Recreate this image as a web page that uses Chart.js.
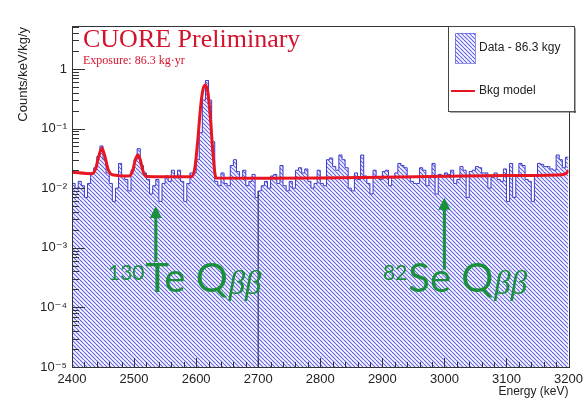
<!DOCTYPE html>
<html><head><meta charset="utf-8">
<script src="https://cdn.jsdelivr.net/npm/chart.js@4.4.0/dist/chart.umd.min.js"></script>
<style>html,body{margin:0;padding:0;background:#fff;}#wrap{width:588px;height:399px;}canvas{display:block;}</style>
</head><body><div id="wrap"><canvas id="c" width="588" height="399"></canvas></div>
<script>
// ---- data ----
const binStart = 2400;
const binWidth = 5;
const counts = [
0.012,0.010,0.013,0.011,0.007,0.012,0.018,0.022,0.034,0.051,
0.030,0.018,0.012,0.006,0.010,0.026,0.016,0.014,0.009,0.020,
0.030,0.046,0.024,0.018,0.014,0.008,0.011,0.014,0.006,0.012,
0.016,0.013,0.020,0.015,0.020,0.013,0.006,0.012,0.018,0.018,
0.030,0.085,0.30,0.64,0.30,0.06,
0.013,0.011,0.018,0.012,0.011,0.024,0.030,0.019,0.015,0.020,
0.011,0.013,0.017,0.007,0.009,0.011,0.013,0.010,0.016,0.017,
0.012,0.024,0.011,0.009,0.013,0.010,0.020,0.022,0.018,0.021,
0.013,0.010,0.012,0.020,0.012,0.011,
0.030,0.032,0.023,0.020,0.036,0.030,0.022,0.010,0.009,0.018,
0.014,0.036,0.016,0.012,0.008,0.020,0.015,0.014,0.019,0.020,
0.011,0.015,0.018,0.026,0.024,0.022,0.015,0.013,0.012,0.012,
0.022,0.020,0.011,0.016,0.026,0.008,0.017,0.016,
0.018,0.017,0.020,0.012,0.014,0.023,0.020,0.007,0.019,0.020,
0.023,0.022,0.018,0.018,0.010,0.015,0.018,0.014,0.013,0.021,
0.006,0.026,0.007,0.016,0.026,0.024,0.014,0.013,0.006,0.016,
0.026,0.025,0.023,0.023,0.021,0.020,0.036,0.030,0.022,0.033
];
const modelEnergy = [2400,2432,2438,2443,2448,2453,2458,2465,2492,2498,2502,2506,2510,2514,2520,2592,2598,2603,2607,2611,2615,2619,2623,2627,2632,2700,2800,2900,3000,3100,3190,3197,3200];
const modelValue  = [0.0185,0.0175,0.021,0.034,0.047,0.034,0.021,0.0168,0.0160,0.020,0.030,0.036,0.030,0.020,0.0157,0.0155,0.022,0.07,0.22,0.45,0.54,0.40,0.15,0.04,0.0148,0.0147,0.0148,0.0152,0.0158,0.0163,0.0168,0.018,0.020];
const markerLine = {energy: 2700, low: 1e-5, high: 0.009};
const arrowTe = {energy: 2535, tip: 0.0050, tail: 0.00058};
const arrowSe = {energy: 3000, tip: 0.0069, tail: 0.00043};
const yTickValues = [1e-5,1e-4,1e-3,1e-2,1e-1,1];
const xMin = 2400, xMax = 3200, yMin = 1e-5, yMax = 5.25;

// ---- build ----
const histPoints = counts.map((v,i)=>({x: binStart + i*binWidth, y: v}));
histPoints.push({x: binStart + counts.length*binWidth, y: counts[counts.length-1]});
const modelPoints = modelEnergy.map((e,i)=>({x:e, y:modelValue[i]}));

const canvas = document.getElementById('c');
const ctx0 = canvas.getContext('2d');
function makeHatch(ctx){
  const c=document.createElement('canvas'); c.width=8; c.height=8;
  const g=c.getContext('2d');
  g.fillStyle='#f7f7ff'; g.fillRect(0,0,8,8);
  g.strokeStyle='rgb(96,96,230)'; g.lineWidth=1.05;
  for(let k=-8;k<=8;k+=4){ g.beginPath(); g.moveTo(k,0); g.lineTo(k+8,8); g.stroke(); }
  return ctx.createPattern(c,'repeat');
}
const hatch = makeHatch(ctx0);

const SUP = {'-':'\u207B','0':'\u2070','1':'\u00B9','2':'\u00B2','3':'\u00B3','4':'\u2074','5':'\u2075','6':'\u2076','7':'\u2077','8':'\u2078','9':'\u2079'};
function expLabel(v){
  const e = Math.round(Math.log10(v));
  if(e===0) return '1';
  return '10' + String(e).split('').map(c=>SUP[c]).join('');
}

const deco = {
  id:'deco',
  afterDraw(chart){
    const ctx = chart.ctx, a = chart.chartArea, xs = chart.scales.x, ys = chart.scales.y;
    ctx.save();
    // ticks
    ctx.strokeStyle='#333'; ctx.lineWidth=1;
    ctx.beginPath();
    for(let e=xMin;e<=xMax;e+=20){
      const px=Math.round(xs.getPixelForValue(e))+0.5;
      const len = (e%100===0)?9:5;
      ctx.moveTo(px,a.bottom); ctx.lineTo(px,a.bottom-len);
    }
    for(let d=-5; d<=0; d++){
      for(let m=1;m<=9;m++){
        const v=m*Math.pow(10,d);
        if(v<yMin||v>yMax) continue;
        const py=Math.round(ys.getPixelForValue(v))+0.5;
        const len=(m===1)?13:7;
        ctx.moveTo(a.left,py); ctx.lineTo(a.left+len,py);
      }
    }
    ctx.stroke();
    // frame
    ctx.strokeStyle='#333';
    ctx.strokeRect(Math.round(a.left)+0.5, Math.round(a.top)+0.5, Math.round(a.right-a.left), Math.round(a.bottom-a.top));

    // y axis title
    ctx.save();
    ctx.translate(23, a.top+1); ctx.rotate(-Math.PI/2);
    ctx.fillStyle='#222'; ctx.font='13px "Liberation Sans", Arial, sans-serif';
    ctx.textAlign='right'; ctx.textBaseline='middle';
    ctx.fillText('Counts/keV/kg/y', 0, 0);
    ctx.restore();

    // title texts
    ctx.fillStyle='#d3122c';
    ctx.font='26px "Liberation Serif", "DejaVu Serif", serif';
    ctx.textBaseline='alphabetic'; ctx.textAlign='left';
    ctx.fillText('CUORE Preliminary', 83, 47);
    ctx.font='12px "Liberation Serif", serif';
    ctx.fillText('Exposure: 86.3 kg\u00B7yr', 83, 64);

    // legend
    const L={x:448,y:26,w:126,h:85};
    ctx.fillStyle='#fff'; ctx.fillRect(L.x,L.y,L.w,L.h);
    ctx.strokeStyle='#444'; ctx.lineWidth=1;
    ctx.strokeRect(L.x+0.5,L.y+0.5,L.w,L.h);
    ctx.fillStyle='#555';
    ctx.fillRect(L.x+2,L.y+L.h,L.w,1.5);
    ctx.fillRect(L.x+L.w,L.y+2,1.5,L.h);
    ctx.fillStyle=hatch; ctx.fillRect(455,33,20,30);
    ctx.strokeStyle='rgba(72,72,218,0.6)'; ctx.strokeRect(455.5,33.5,20,30);
    ctx.strokeStyle='rgb(230,20,35)'; ctx.lineWidth=2;
    ctx.beginPath(); ctx.moveTo(451,91); ctx.lineTo(475,91); ctx.stroke();
    ctx.fillStyle='#222'; ctx.font='12px "Liberation Sans", Arial, sans-serif';
    ctx.textBaseline='middle';
    ctx.fillText('Data - 86.3 kgy', 479, 48);
    ctx.fillText('Bkg model', 479, 91);

    // arrows
    const green='#1a8f3c';
    function arrow(A){
      const px=xs.getPixelForValue(A.energy), tip=ys.getPixelForValue(A.tip), tail=ys.getPixelForValue(A.tail);
      ctx.strokeStyle=green; ctx.lineWidth=3;
      ctx.beginPath(); ctx.moveTo(px,tail); ctx.lineTo(px,tip+10); ctx.stroke();
      ctx.fillStyle=green; ctx.beginPath();
      ctx.moveTo(px,tip); ctx.lineTo(px-6,tip+12); ctx.lineTo(px+6,tip+12); ctx.closePath(); ctx.fill();
    }
    arrow(arrowTe); arrow(arrowSe);

    // labels
    ctx.fillStyle=green; ctx.textBaseline='alphabetic';
    function label(x0, iso, el){
      ctx.font='21px Lato, "Open Sans", sans-serif';
      ctx.fillText(iso, x0, 280);
      let x = x0 + ctx.measureText(iso).width + 1;
      ctx.font='40px Lato, "Open Sans", sans-serif';
      ctx.fillText(el + ' Q', x, 292);
      x += ctx.measureText(el + ' Q').width + 1;
      ctx.font='italic 33px "Liberation Serif", "DejaVu Serif", serif';
      ctx.fillText('\u03B2\u03B2', x, 294);
    }
    label(108,'130','Te');
    label(383,'82','Se');
    ctx.restore();
  }
};

new Chart(canvas, {
  type:'line',
  data:{datasets:[
    {label:'Bkg model', data:modelPoints, borderColor:'rgb(232,22,34)', borderWidth:3, pointRadius:0, fill:false, cubicInterpolationMode:'monotone'},
    {label:'boundary', data:[{x:markerLine.energy,y:markerLine.low},{x:markerLine.energy,y:markerLine.high}], borderColor:'#3a3a70', borderWidth:1.2, pointRadius:0, fill:false},
    {label:'Data - 86.3 kgy', data:histPoints, stepped:'before', borderColor:'rgb(60,60,200)', borderWidth:1, pointRadius:0, fill:'start', backgroundColor:hatch}
  ]},
  options:{
    responsive:false, animation:false, devicePixelRatio:1,
    layout:{padding:{left:0,top:26,right:15,bottom:0}},
    plugins:{legend:{display:false}, tooltip:{enabled:false}},
    scales:{
      x:{type:'linear', min:xMin, max:xMax,
         grid:{display:false, drawTicks:false}, border:{display:false},
         ticks:{stepSize:100, color:'#222', font:{family:'"Liberation Sans", Arial, sans-serif', size:13}, padding:5, maxRotation:0, callback:(v)=>String(v)},
         title:{display:true, text:'Energy (keV)', align:'end', color:'#222', font:{family:'"Liberation Sans", Arial, sans-serif', size:12}, padding:{top:0,bottom:0}},
         afterFit(s){ s.height=32; }},
      y:{type:'logarithmic', min:yMin, max:yMax,
         grid:{display:false, drawTicks:false}, border:{display:false},
         afterBuildTicks(s){ s.ticks = yTickValues.map(v=>({value:v})); },
         ticks:{color:'#222', font:{family:'"Liberation Sans", "DejaVu Sans", sans-serif', size:13}, padding:5, callback:(v)=>expLabel(v)},
         title:{display:false},
         afterFit(s){ s.width=72; }}
    }
  },
  plugins:[deco]
});
</script></body></html>
